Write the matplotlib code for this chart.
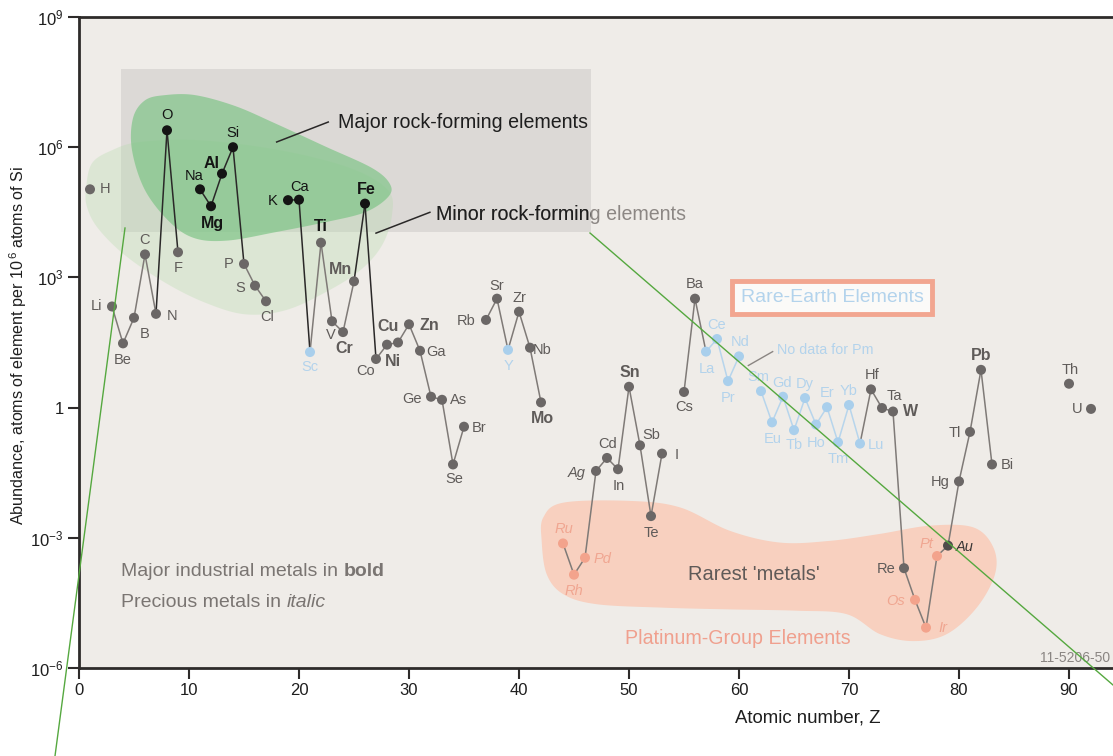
import numpy as np
import matplotlib
matplotlib.use('Agg')
import matplotlib.pyplot as plt
from matplotlib.lines import Line2D
from matplotlib.patches import Rectangle
from matplotlib.ticker import NullLocator

plt.rcParams['font.family'] = ['Liberation Sans', 'DejaVu Sans']
plt.rcParams['mathtext.fontset'] = 'custom'
plt.rcParams['mathtext.rm'] = 'Liberation Sans'
plt.rcParams['mathtext.it'] = 'Liberation Sans:italic'
plt.rcParams['mathtext.bf'] = 'Liberation Sans:bold'

# abundance in the upper continental crust, log10(atoms per 10^6 atoms of Si)
symbols = ['H', 'Li', 'Be', 'B', 'C', 'N', 'O', 'F', 'Na', 'Mg', 'Al', 'Si', 'P', 'S', 'Cl',
           'K', 'Ca', 'Sc', 'Ti', 'V', 'Cr', 'Mn', 'Fe', 'Co', 'Ni', 'Cu', 'Zn', 'Ga', 'Ge',
           'As', 'Se', 'Br', 'Rb', 'Sr', 'Y', 'Zr', 'Nb', 'Mo', 'Ru', 'Rh', 'Pd', 'Ag', 'Cd',
           'In', 'Sn', 'Sb', 'Te', 'I', 'Cs', 'Ba', 'La', 'Ce', 'Pr', 'Nd', 'Sm', 'Eu', 'Gd',
           'Tb', 'Dy', 'Ho', 'Er', 'Tm', 'Yb', 'Lu', 'Hf', 'Ta', 'W', 'Re', 'Os', 'Ir', 'Pt',
           'Au', 'Hg', 'Tl', 'Pb', 'Bi', 'Th', 'U']
atomic_number = [1, 3, 4, 5, 6, 7, 8, 9, 11, 12, 13, 14, 15, 16, 17,
                 19, 20, 21, 22, 23, 24, 25, 26, 27, 28, 29, 30, 31, 32,
                 33, 34, 35, 37, 38, 39, 40, 41, 42, 44, 45, 46, 47, 48,
                 49, 50, 51, 52, 53, 55, 56, 57, 58, 59, 60, 62, 63, 64,
                 65, 66, 67, 68, 69, 70, 71, 72, 73, 74, 75, 76, 77, 78,
                 79, 80, 81, 82, 83, 90, 92]
log_abundance = [5.03, 2.33, 1.48, 2.07, 3.53, 2.16, 6.39, 3.58, 5.03, 4.64, 5.39, 6.00, 3.31, 2.81, 2.45,
                 4.78, 4.79, 1.28, 3.80, 1.99, 1.74, 2.91, 4.70, 1.12, 1.45, 1.50, 1.92, 1.31, 0.25,
                 0.18, -1.31, -0.44, 2.02, 2.51, 1.33, 2.21, 1.38, 0.12, -3.13, -3.85, -3.46, -1.46, -1.16,
                 -1.42, 0.48, -0.87, -2.50, -1.06, 0.36, 2.51, 1.29, 1.58, 0.61, 1.18, 0.38, -0.34, 0.25,
                 -0.52, 0.22, -0.39, 0.01, -0.80, 0.06, -0.83, 0.42, -0.01, -0.09, -3.70, -4.43, -5.07, -3.42,
                 -3.18, -1.70, -0.56, 0.87, -1.31, 0.55, -0.03]

major_rock = ['O', 'Na', 'Mg', 'Al', 'Si', 'K', 'Ca', 'Fe']
rare_earth = ['Sc', 'Y', 'La', 'Ce', 'Pr', 'Nd', 'Sm', 'Eu', 'Gd', 'Tb', 'Dy', 'Ho', 'Er',
              'Tm', 'Yb', 'Lu']
platinum_group = ['Ru', 'Rh', 'Pd', 'Os', 'Ir', 'Pt']
industrial_metals = ['Mg', 'Al', 'Fe', 'Ti', 'Mn', 'Cr', 'Cu', 'Zn', 'Ni', 'Mo', 'Sn', 'W', 'Pb']
precious_metals = ['Ru', 'Rh', 'Pd', 'Ag', 'Os', 'Ir', 'Pt', 'Au']

x_ticks = [0, 10, 20, 30, 40, 50, 60, 70, 80, 90]
y_ticks = [1e-6, 1e-3, 1, 1e3, 1e6, 1e9]
y_tick_labels = ['10$^{-6}$', '10$^{-3}$', '1', '10$^{3}$', '10$^{6}$', '10$^{9}$']

# shaded regions, outlines as (Z, log10 abundance)
rock_box = (3.8, 46.5, 4.04, 7.8)
major_blob = [(4.91, 6.67), (6.0, 7.08), (7.82, 7.20), (10.55, 7.20), (14.18, 6.95), (17.82, 6.55),
              (22.36, 6.02), (26.64, 5.52), (28.27, 5.15), (28.09, 4.85), (26.0, 4.50), (22.36, 4.27),
              (17.82, 4.04), (13.55, 3.85), (10.55, 3.90), (8.27, 4.27), (6.0, 5.01), (4.82, 5.93)]
minor_blob = [(0.64, 5.05), (1.18, 5.63), (3.0, 5.93), (5.55, 6.12), (11.0, 6.16), (18.27, 5.93),
              (24.64, 5.52), (28.09, 5.01), (28.45, 4.43), (27.55, 3.74), (25.55, 3.16), (22.36, 2.65),
              (18.73, 2.24), (15.09, 2.15), (11.45, 2.42), (7.82, 2.88), (4.18, 3.51), (1.73, 4.13),
              (0.73, 4.62)]
pge_blob = [(42.21, -2.53), (44.03, -2.19), (50.09, -2.15), (54.64, -2.30), (59.18, -2.84),
            (63.73, -3.11), (68.27, -3.07), (72.82, -2.91), (77.36, -2.72), (81.3, -2.76),
            (83.12, -3.22), (83.27, -3.84), (81.61, -4.61), (78.88, -5.22), (75.85, -5.38),
            (72.82, -5.22), (69.79, -4.76), (65.25, -4.68), (59.18, -4.65), (53.12, -4.61),
            (47.06, -4.53), (44.03, -4.30), (42.52, -3.84), (42.06, -3.07)]

# label placement around each point, in pixels (right, down)
label_offset = {
    'H': (15, 0), 'Li': (-15, 0), 'Be': (0, 17), 'B': (11, 16), 'C': (0, -14), 'N': (16, 2),
    'O': (0, -15), 'F': (0, 16), 'Na': (-6, -13), 'Mg': (1, 17), 'Al': (-10, -10), 'Si': (0, -14),
    'P': (-15, 0), 'S': (-15, 2), 'Cl': (1, 16), 'K': (-15, 1), 'Ca': (1, -13), 'Sc': (0, 15),
    'Ti': (0, -16), 'V': (-1, 14), 'Cr': (1, 16), 'Mn': (-14, -12), 'Fe': (1, -14), 'Co': (-10, 12),
    'Ni': (6, 17), 'Cu': (-10, -16), 'Zn': (20, 1), 'Ga': (16, 1), 'Ge': (-19, 2), 'As': (17, 0),
    'Se': (1, 15), 'Br': (15, 1), 'Rb': (-20, 1), 'Sr': (0, -13), 'Y': (1, 16), 'Zr': (0, -14),
    'Nb': (12, 2), 'Mo': (1, 16), 'Ru': (1, -14), 'Rh': (0, 16), 'Pd': (17, 1), 'Ag': (-19, 2),
    'Cd': (1, -14), 'In': (1, 17), 'Sn': (1, -14), 'Sb': (11, -10), 'Te': (0, 17), 'I': (15, 1),
    'Cs': (0, 15), 'Ba': (0, -15), 'La': (1, 17), 'Ce': (0, -14), 'Pr': (0, 17), 'Nd': (1, -14),
    'Sm': (-3, -14), 'Eu': (1, 17), 'Gd': (-1, -14), 'Tb': (0, 15), 'Dy': (0, -14), 'Ho': (0, 18),
    'Er': (0, -14), 'Tm': (0, 17), 'Yb': (0, -14), 'Lu': (16, 1), 'Hf': (1, -14), 'Ta': (12, -12),
    'W': (18, 0), 'Re': (-18, 1), 'Os': (-19, 1), 'Ir': (17, 0), 'Pt': (-11, -12), 'Au': (17, 1),
    'Hg': (-19, 1), 'Tl': (-15, 1), 'Pb': (0, -14), 'Bi': (15, 1), 'Th': (1, -14), 'U': (-14, 0),
}

INK = '#2e2b2a'
GRAY_PT = '#6b6766'
GRAY_TXT = '#5f5b59'
BLUE_PT = '#a9cfec'
BLUE_TXT = '#b3d3ec'
SALMON_PT = '#f3a38c'
SALMON_TXT = '#f0a691'
NOTE = '#7a7572'


def smooth_closed(pts, n=24):
    # closed Catmull-Rom curve through the outline points
    p = np.asarray(pts, float)
    k = len(p)
    t = np.linspace(0, 1, n, endpoint=False)[:, None]
    out = []
    for i in range(k):
        p0, p1, p2, p3 = p[i - 1], p[i], p[(i + 1) % k], p[(i + 2) % k]
        out.append(0.5 * (2 * p1 + (-p0 + p2) * t + (2 * p0 - 5 * p1 + 4 * p2 - p3) * t ** 2
                          + (-p0 + 3 * p1 - 3 * p2 + p3) * t ** 3))
    return np.vstack(out)


W, H = 1113, 756
fig = plt.figure(figsize=(W / 100, H / 100), dpi=100)
ax = fig.add_axes([79 / W, 88 / H, 1 - 79 / W, 651 / H])
ax.set_facecolor('#efece8')
ax.set_yscale('log')
ax.set_xlim(0, 94)
ax.set_ylim(1e-6, 1e9)

for side in ['top', 'left', 'bottom']:
    ax.spines[side].set_color(INK)
    ax.spines[side].set_linewidth(2)
ax.spines['right'].set_visible(False)

ax.set_xticks(x_ticks)
ax.set_yticks(y_ticks, labels=y_tick_labels)
ax.yaxis.set_minor_locator(NullLocator())
ax.tick_params(direction='out', length=8, width=1.5, color=INK, labelsize=12,
               labelcolor='#1e1e1e', pad=3)

# shaded backgrounds
x0, x1, l0, l1 = rock_box
rect = Rectangle((x0, 10 ** l0), x1 - x0, 10 ** l1 - 10 ** l0, fc='#dcd9d6', ec='none', zorder=1)
ax.add_patch(rect)

xy = smooth_closed(minor_blob)
ax.fill(xy[:, 0], 10 ** xy[:, 1], color='#b7dcae', alpha=0.33, lw=0, zorder=2)
xy = smooth_closed(major_blob)
ax.fill(xy[:, 0], 10 ** xy[:, 1], color='#7cc485', alpha=0.68, lw=0, zorder=3)
xy = smooth_closed(pge_blob)
ax.fill(xy[:, 0], 10 ** xy[:, 1], color='#f8d0bf', lw=0, zorder=2)

# connecting lines between neighbouring elements
vals = 10 ** np.array(log_abundance)
for i in range(len(symbols) - 1):
    if atomic_number[i + 1] - atomic_number[i] != 1:
        continue
    a, b = symbols[i], symbols[i + 1]
    if a in major_rock or b in major_rock:
        c = '#2a2828'
    elif a in rare_earth and b in rare_earth:
        c = '#b7d5ec'
    else:
        c = '#7f7a77'
    ax.plot(atomic_number[i:i + 2], vals[i:i + 2], color=c, lw=1.1, zorder=4,
            solid_capstyle='round')

# points and element labels
for sym, z, v in zip(symbols, atomic_number, vals):
    if sym in major_rock:
        pc, tc = '#141414', '#141414'
    elif sym in rare_earth:
        pc, tc = BLUE_PT, BLUE_TXT
    elif sym in platinum_group:
        pc, tc = SALMON_PT, SALMON_TXT
    elif sym == 'Au':
        pc, tc = '#4f4b4a', '#3a3736'
    else:
        pc, tc = GRAY_PT, GRAY_TXT
    if sym == 'Ti':
        tc = '#141414'
    ax.scatter([z], [v], s=52, color=pc, edgecolors='none', zorder=5)
    bold = sym in industrial_metals
    dx, dy = label_offset[sym]
    ax.annotate(sym, (z, v), xytext=(dx, -dy), textcoords='offset pixels',
                ha='center', va='center', color=tc,
                fontsize=11.5 if bold else 10.5,
                fontweight='bold' if bold else 'normal',
                fontstyle='italic' if sym in precious_metals else 'normal', zorder=6)

# annotations
ax.plot([17.97, 22.66], [10 ** 6.12, 10 ** 6.58], color='#2a2828', lw=1.1, zorder=6)
ax.text(23.55, 10 ** 6.57, 'Major rock-forming elements', fontsize=14.1, color='#1e1e1e',
        va='center', zorder=7)
ax.plot([27.0, 31.9], [10 ** 4.02, 10 ** 4.50], color='#2a2828', lw=1.1, zorder=6)
ax.text(32.45, 10 ** 4.45, 'Minor rock-forming elements', fontsize=14.1, color='#8c8784',
        va='center', zorder=6)
t = ax.text(32.45, 10 ** 4.45, 'Minor rock-forming elements', fontsize=14.1, color='#1e1e1e',
            va='center', zorder=7, clip_on=True)
t.set_clip_path(rect)

ax.text(68.45, 10 ** 2.54, 'Rare-Earth Elements', fontsize=14, color=BLUE_TXT,
        ha='center', va='center', zorder=7,
        bbox=dict(boxstyle='square,pad=0.42', fc='#fbfaf8', ec='#f2a690', lw=3.5))
ax.plot([60.85, 63.06], [10 ** 0.97, 10 ** 1.29], color='#8a8582', lw=1.0, zorder=6)
ax.text(63.45, 10 ** 1.32, 'No data for Pm', fontsize=10.3, color=BLUE_TXT, va='center', zorder=7)

t1 = ax.text(3.82, 10 ** -3.78, 'Major industrial metals in ', fontsize=14, color=NOTE,
             va='center', zorder=7)
ax.annotate('bold', xy=(1, 0.5), xycoords=t1, va='center', ha='left', fontsize=14,
            fontweight='bold', color=NOTE, zorder=7)
t2 = ax.text(3.82, 10 ** -4.48, 'Precious metals in ', fontsize=14, color=NOTE,
             va='center', zorder=7)
ax.annotate('italic', xy=(1, 0.5), xycoords=t2, va='center', ha='left', fontsize=14,
            fontstyle='italic', color=NOTE, zorder=7)

ax.text(61.36, 10 ** -3.85, "Rarest 'metals'", fontsize=14.4, color='#5f5a58',
        ha='center', va='center', zorder=7)
ax.text(59.9, 10 ** -5.31, 'Platinum-Group Elements', fontsize=14.1, color='#f0a08e',
        ha='center', va='center', zorder=7)
ax.text(93.7, 10 ** -5.77, '11-5206-50', fontsize=10, color='#8a8582', ha='right',
        va='center', zorder=7)

fig.text(18 / W, 1 - 345 / H, 'Abundance, atoms of element per 10$^{\\,6}$ atoms of Si',
         rotation=90, ha='center', va='center', fontsize=11.6, color='#1e1e1e')
fig.text(808 / W, 1 - 718 / H, 'Atomic number, Z', ha='center', va='center',
         fontsize=13.4, color='#1e1e1e')

# thin green guide lines running out from the lower corners of the grey box
fig.add_artist(Line2D([125 / W, 55 / W], [1 - 228 / H, 0], transform=fig.transFigure,
                      color='#55a83f', lw=1.0, zorder=10))
fig.add_artist(Line2D([590 / W, 1], [1 - 233 / H, 1 - 685 / H], transform=fig.transFigure,
                      color='#55a83f', lw=1.0, zorder=10))

fig.savefig('out.png', dpi=100, facecolor='white')
